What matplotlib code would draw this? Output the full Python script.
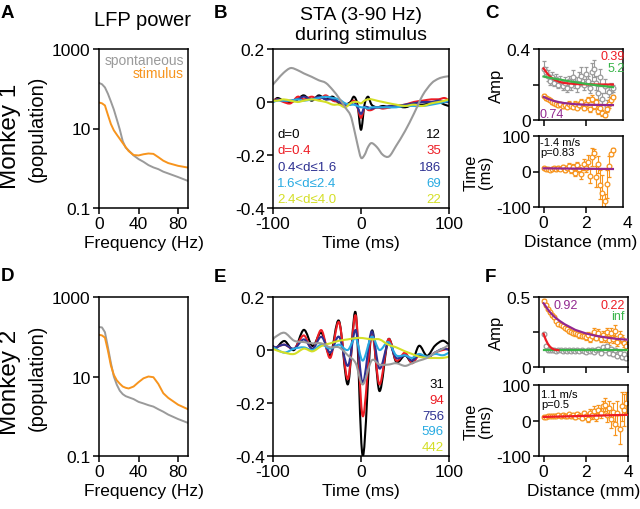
import numpy as np
import matplotlib
matplotlib.use("Agg")
import matplotlib.pyplot as plt
from matplotlib.path import Path
from matplotlib.patches import PathPatch

plt.rcParams["font.family"] = ["Liberation Sans", "DejaVu Sans"]
plt.rcParams["axes.unicode_minus"] = False

W, H = 640, 510

GRAY = "#9a9a9a"
ORANGE = "#f7941d"
RED = "#ed1c24"
NAVY = "#2e3192"
CYAN = "#29abe2"
YELLOW = "#d4df26"
GREEN = "#39b54a"
PURPLE = "#92278f"

# ---- LFP power spectra (A, D) ----
freq = [0, 3, 6, 9, 12, 15, 18, 21, 24, 27, 30, 35, 40, 45, 50, 55, 60, 65, 70, 80, 90]
spont_m1 = [140, 130, 108, 75, 48, 30, 17, 9.5, 4.8, 3.3, 2.8, 2.1, 1.7, 1.45, 1.2, 1.05, 0.95, 0.82, 0.74, 0.6, 0.48]
stim_m1 = [45, 43, 38, 22, 13, 9, 7, 5.5, 4.3, 3.4, 2.7, 2.15, 2.1, 2.25, 2.35, 2.3, 1.9, 1.55, 1.35, 1.15, 1.04]
spont_m2 = [175, 172, 130, 55, 22, 10, 6.2, 4.4, 3.6, 3.2, 3.0, 2.7, 2.3, 2.1, 1.9, 1.75, 1.5, 1.3, 1.1, 0.85, 0.68]
stim_m2 = [112, 108, 95, 45, 19, 11, 8, 6.6, 5.6, 5.2, 5.0, 5.6, 7.2, 9.0, 10, 9.6, 6.5, 3.8, 2.9, 1.95, 1.5]

# ---- STA monkey 1 (B) ----
t_b = [-100, -95, -88, -80, -72, -65, -56, -48, -40, -32, -25, -18, -12, -8, -4, 0,
       4, 8, 12, 18, 25, 32, 40, 50, 60, 70, 80, 88, 95, 100]
sta_b_d0 = [0.0, 0.015, 0.005, 0.0, 0.01, 0.025, 0.005, 0.025, 0.01, 0.02, -0.005, -0.01, 0.0, 0.02, -0.01, -0.105,
            -0.01, 0.02, -0.01, -0.02, -0.015, -0.02, -0.015, -0.02, -0.01, -0.01, -0.005, 0.0, -0.01, -0.015]
sta_b_d04 = [0.005, 0.01, 0.0, -0.005, 0.02, 0.01, 0.02, 0.01, 0.025, 0.005, 0.0, -0.015, -0.005, 0.005, -0.02, -0.06,
             -0.02, -0.03, -0.03, -0.02, -0.025, -0.02, -0.015, -0.01, 0.0, 0.005, 0.01, 0.01, 0.015, 0.005]
sta_b_d16 = [0.0, 0.01, 0.005, 0.005, 0.01, 0.02, 0.01, 0.02, 0.01, 0.01, 0.0, -0.01, -0.01, 0.0, -0.02, -0.045,
             -0.02, -0.02, -0.025, -0.02, -0.02, -0.015, -0.015, -0.01, -0.005, 0.0, 0.0, 0.005, 0.0, 0.0]
sta_b_d24 = [0.0, 0.005, 0.005, 0.005, 0.01, 0.005, 0.01, 0.015, 0.02, 0.015, 0.01, -0.005, -0.01, -0.01, -0.015, -0.02,
             -0.02, -0.025, -0.02, -0.02, -0.02, -0.02, -0.02, -0.015, -0.015, -0.015, -0.01, -0.005, 0.0, 0.005]
sta_b_d40 = [0.005, 0.005, 0.01, 0.005, 0.0, 0.005, 0.01, 0.005, 0.0, -0.01, -0.01, -0.02, -0.005, 0.0, 0.0, -0.005,
             0.005, 0.01, 0.01, 0.005, 0.0, -0.005, -0.01, -0.015, -0.01, -0.015, -0.005, 0.0, 0.005, 0.01]
sta_b_gray = [0.066, 0.085, 0.11, 0.128, 0.12, 0.108, 0.095, 0.082, 0.072, 0.045, 0.015, -0.02, -0.05, -0.1, -0.16, -0.21,
              -0.2, -0.17, -0.155, -0.17, -0.2, -0.205, -0.165, -0.11, -0.045, 0.025, 0.07, 0.088, 0.095, 0.097]

# ---- STA monkey 2 (E) ----
t_e = [-100, -97, -87, -76, -65, -55, -45, -35, -25, -15, -6, 2, 12, 21, 31, 40, 50, 58, 66, 75, 84, 93, 100]
sta_e_d0 = [0.01, 0.005, 0.034, 0.0, 0.076, 0.015, 0.065, -0.02, 0.11, -0.13, 0.14, -0.40, 0.07, -0.155, 0.04, -0.045,
            -0.02, -0.045, 0.016, -0.022, 0.016, 0.035, 0.02]
sta_e_d04 = [0.015, 0.01, 0.02, 0.005, 0.055, 0.0, 0.075, -0.03, 0.105, -0.11, 0.13, -0.25, 0.06, -0.13, 0.04, -0.04,
             -0.01, -0.05, -0.02, -0.03, -0.01, 0.0, 0.005]
sta_e_d16 = [0.015, 0.01, 0.02, 0.005, 0.04, 0.005, 0.05, -0.01, 0.05, -0.06, 0.075, -0.125, 0.07, -0.07, 0.025, -0.03,
             -0.02, -0.04, -0.02, -0.03, -0.01, 0.005, 0.0]
sta_e_d24 = [0.01, 0.005, -0.01, 0.005, 0.01, 0.0, 0.02, 0.005, 0.02, 0.0, 0.045, -0.04, 0.05, 0.0, 0.03, -0.02,
             -0.02, -0.03, -0.015, -0.025, -0.015, -0.02, -0.01]
sta_e_d40 = [0.005, 0.0, -0.01, -0.015, 0.005, -0.005, 0.015, 0.025, 0.035, 0.04, 0.045, 0.045, 0.04, 0.04, 0.02, 0.01,
             -0.005, -0.015, -0.025, -0.03, -0.03, -0.03, -0.025]
sta_e_gray = [0.04, 0.05, 0.065, 0.035, 0.03, 0.025, 0.025, 0.01, 0.01, -0.02, -0.05, -0.13, -0.04, -0.055, -0.055, -0.05,
              -0.06, -0.05, -0.04, -0.03, -0.01, 0.005, 0.02]

n_m1 = ["12", "35", "186", "69", "22"]
n_m2 = ["31", "94", "756", "596", "442"]
dist_labels = ["d=0", "d=0.4", "0.4<d\u22641.6", "1.6<d\u22642.4", "2.4<d\u22644.0"]

# ---- amplitude / timing vs distance (C) ----
dist_c = [0.0, 0.1, 0.2, 0.3, 0.4, 0.5, 0.6, 0.7, 0.8, 0.9, 1.0, 1.1, 1.2, 1.3, 1.4, 1.5, 1.6,
          1.7, 1.8, 1.9, 2.0, 2.1, 2.2, 2.3, 2.4, 2.5, 2.6, 2.7, 2.8, 2.9, 3.0, 3.1, 3.2, 3.3]
amp_c_spont = [0.29, 0.27, 0.25, 0.22, 0.24, 0.21, 0.23, 0.20, 0.22, 0.19, 0.21, 0.18, 0.22, 0.20, 0.24, 0.21, 0.19,
               0.23, 0.25, 0.20, 0.26, 0.22, 0.18, 0.27, 0.29, 0.21, 0.15, 0.24, 0.12, 0.19, 0.08, 0.16, 0.18, 0.18]
amp_c_spont_err = [0.04, 0.03, 0.03, 0.02, 0.03, 0.02, 0.03, 0.02, 0.03, 0.02, 0.03, 0.02, 0.03, 0.03, 0.04, 0.03, 0.03,
                   0.04, 0.05, 0.03, 0.04, 0.03, 0.03, 0.05, 0.05, 0.04, 0.04, 0.05, 0.03, 0.04, 0.03, 0.03, 0.03, 0.02]
amp_c_stim = [0.137, 0.125, 0.12, 0.11, 0.10, 0.095, 0.09, 0.085, 0.09, 0.08, 0.085, 0.075, 0.09, 0.08, 0.075, 0.09, 0.07,
              0.085, 0.10, 0.07, 0.09, 0.11, 0.06, 0.12, 0.08, 0.10, 0.05, 0.07, 0.04, 0.03, 0.06, 0.09, 0.11, 0.13]
amp_c_stim_err = [0.01, 0.01, 0.01, 0.01, 0.01, 0.01, 0.01, 0.01, 0.01, 0.01, 0.01, 0.01, 0.015, 0.01, 0.01, 0.015, 0.01,
                  0.015, 0.02, 0.015, 0.02, 0.02, 0.015, 0.02, 0.02, 0.02, 0.015, 0.02, 0.015, 0.015, 0.015, 0.02, 0.02, 0.01]
time_c = [9, 6, 7, 5, 8, 9, 6, 10, 8, 12, 5, 10, 15, 3, 12, -5, 18,
          8, -8, 20, 10, 28, -12, 40, 52, -15, 20, -37, -60, -83, -35, 15, 49, 61]
time_c_err = [3, 3, 4, 3, 4, 4, 4, 5, 5, 6, 5, 6, 8, 6, 8, 8, 10,
              10, 12, 15, 12, 18, 20, 25, 10, 30, 25, 40, 50, 20, 40, 30, 5, 5]

fit_d_c = [0, 0.25, 0.5, 0.75, 1.0, 1.5, 2.0, 2.5, 3.0, 3.3]
fit_c_red = [0.29, 0.25, 0.228, 0.215, 0.208, 0.203, 0.201, 0.2, 0.2, 0.2]
fit_c_green = [0.245, 0.239, 0.233, 0.228, 0.223, 0.213, 0.204, 0.196, 0.189, 0.185]
fit_c_purple = [0.13, 0.117, 0.107, 0.1, 0.095, 0.089, 0.086, 0.085, 0.084, 0.084]
line_c_d = [0, 3.3]
line_c_t = [9, 7]

# ---- amplitude / timing vs distance (F) ----
dist_f = [0.0, 0.1, 0.2, 0.3, 0.4, 0.5, 0.6, 0.7, 0.8, 0.9, 1.0, 1.1, 1.2, 1.3, 1.4, 1.5, 1.6, 1.7, 1.8, 1.9,
          2.0, 2.1, 2.2, 2.3, 2.4, 2.5, 2.6, 2.7, 2.8, 2.9, 3.0, 3.1, 3.2, 3.3, 3.4, 3.5, 3.6, 3.7, 3.8, 3.9]
amp_f_stim = [0.474, 0.44, 0.415, 0.39, 0.37, 0.356, 0.33, 0.31, 0.30, 0.29, 0.28, 0.27, 0.26, 0.25, 0.245, 0.24,
              0.235, 0.23, 0.22, 0.225, 0.215, 0.23, 0.2, 0.22, 0.25, 0.21, 0.24, 0.2, 0.23, 0.21, 0.25, 0.19,
              0.24, 0.2, 0.26, 0.18, 0.22, 0.2, 0.17, 0.15]
amp_f_stim_err = [0.01, 0.01, 0.01, 0.01, 0.01, 0.01, 0.01, 0.01, 0.01, 0.01, 0.01, 0.01, 0.015, 0.01, 0.015, 0.015,
                  0.015, 0.02, 0.015, 0.02, 0.02, 0.02, 0.02, 0.02, 0.03, 0.02, 0.03, 0.02, 0.03, 0.03, 0.03, 0.03,
                  0.04, 0.03, 0.04, 0.03, 0.04, 0.03, 0.03, 0.03]
amp_f_spont = [0.237, 0.15, 0.125, 0.12, 0.118, 0.12, 0.115, 0.12, 0.118, 0.115, 0.12, 0.115, 0.118, 0.113, 0.12, 0.115,
               0.118, 0.112, 0.12, 0.115, 0.11, 0.12, 0.115, 0.125, 0.11, 0.12, 0.13, 0.1, 0.14, 0.12, 0.15, 0.1,
               0.13, 0.09, 0.12, 0.08, 0.1, 0.07, 0.09, 0.065]
amp_f_spont_err = [0.005] * 20 + [0.008] * 10 + [0.012] * 10
time_f = [9, 11, 12, 13, 12, 14, 13, 15, 12, 16, 14, 12, 17, 13, 15, 11, 18, 14, 8, 20,
          12, 5, 22, 15, 28, 10, 30, 20, 40, 45, 15, 35, 5, 25, -10, 20, -25, 40, 30, 50]
time_f_err = [3, 3, 3, 3, 3, 3, 3, 4, 4, 4, 4, 4, 5, 5, 5, 6, 6, 6, 7, 8,
              8, 8, 10, 10, 12, 12, 14, 14, 16, 18, 20, 20, 25, 25, 30, 35, 40, 40, 45, 30]

fit_d_f = [0, 0.25, 0.5, 0.75, 1.0, 1.5, 2.0, 2.5, 3.0, 3.5, 4.0]
fit_f_purple = [0.455, 0.4, 0.36, 0.33, 0.305, 0.265, 0.24, 0.222, 0.21, 0.2, 0.195]
fit_d_f_red = [0, 0.1, 0.2, 0.3, 0.4, 0.5, 0.6, 0.7]
fit_f_red = [0.237, 0.195, 0.165, 0.145, 0.132, 0.125, 0.122, 0.12]
fit_f_green_d = [0, 4]
fit_f_green = [0.12, 0.12]
line_f_d = [0, 4]
line_f_t = [10, 16]

TICK_FS = 12.5


def add_ax(fig, x0, y0, x1, y1):
    return fig.add_axes([x0 / W, 1 - y1 / H, (x1 - x0) / W, (y1 - y0) / H])


def style(ax, fs=TICK_FS):
    for s in ax.spines.values():
        s.set_linewidth(1.1)
    ax.tick_params(direction="out", length=4, width=1.1, labelsize=fs, pad=2)


def ftext(fig, x, y, s, **kw):
    kw.setdefault("va", "center")
    fig.text(x / W, 1 - y / H, s, **kw)


def smooth_line(ax, x, y, color, lw=1.5, zorder=2):
    # smooth (Catmull-Rom style bezier) curve through the read points
    x = np.asarray(x, float)
    y = np.asarray(y, float)
    n = len(x)
    verts = [(x[0], y[0])]
    codes = [Path.MOVETO]
    for i in range(n - 1):
        i0, i3 = max(i - 1, 0), min(i + 2, n - 1)
        c1 = (x[i] + (x[i + 1] - x[i0]) / 6, y[i] + (y[i + 1] - y[i0]) / 6)
        c2 = (x[i + 1] - (x[i3] - x[i]) / 6, y[i + 1] - (y[i3] - y[i]) / 6)
        verts += [c1, c2, (x[i + 1], y[i + 1])]
        codes += [Path.CURVE4] * 3
    ax.add_patch(PathPatch(Path(verts, codes), fill=False, edgecolor=color, lw=lw,
                           joinstyle="round", capstyle="round", zorder=zorder))


fig = plt.figure(figsize=(W / 100, H / 100), dpi=100)

# spectra
for (y0, y1), spont, stim in [((50, 209), spont_m1, stim_m1), ((298, 457), spont_m2, stim_m2)]:
    ax = add_ax(fig, 99, y0, 188, y1)
    ax.plot(freq, spont, color=GRAY, lw=1.4)
    ax.plot(freq, stim, color=ORANGE, lw=1.4)
    ax.set_yscale("log")
    ax.set_xlim(0, 90)
    ax.set_ylim(0.1, 1000)
    ax.set_yticks([0.1, 10, 1000])
    ax.set_yticklabels(["0.1", "10", "1000"])
    ax.minorticks_off()
    ax.set_xticks([0, 40, 80])
    style(ax)
    ax.set_xlabel("Frequency (Hz)", fontsize=12.5, labelpad=3)

ftext(fig, 184, 61, "spontaneous", color=GRAY, fontsize=10, ha="right")
ftext(fig, 184, 74, "stimulus", color=ORANGE, fontsize=10, ha="right")

# STA panels
sta_sets = [
    ((50, 209), t_b, [sta_b_d0, sta_b_d04, sta_b_d16, sta_b_d24, sta_b_d40], sta_b_gray),
    ((298, 457), t_e, [sta_e_d0, sta_e_d04, sta_e_d16, sta_e_d24, sta_e_d40], sta_e_gray),
]
line_colors = ["black", RED, NAVY, CYAN, YELLOW]
for (y0, y1), t, series, gray in sta_sets:
    ax = add_ax(fig, 273, y0, 449, y1)
    for vals, c in zip(series, line_colors):
        smooth_line(ax, t, vals, c, lw=1.5)
    smooth_line(ax, t, gray, GRAY, lw=1.5)
    ax.set_xlim(-100, 100)
    ax.set_ylim(-0.4, 0.2)
    ax.set_yticks([-0.4, -0.2, 0, 0.2])
    ax.set_yticklabels(["-0.4", "-0.2", "0", "0.2"])
    ax.set_xticks([-100, 0, 100])
    style(ax)
    ax.set_xlabel("Time (ms)", fontsize=12.5, labelpad=3)

for i, (lab, c) in enumerate(zip(dist_labels, line_colors)):
    ftext(fig, 277, 135 + 16.3 * i, lab, color=c, fontsize=9.5, ha="left")
    ftext(fig, 441, 135 + 16.3 * i, n_m1[i], color=c, fontsize=9.5, ha="right")
    ftext(fig, 444, 385 + 15.8 * i, n_m2[i], color=c, fontsize=9.5, ha="right")


def scatter_err(ax, x, y, e, color):
    ax.errorbar(x, y, yerr=e, fmt="o", ms=3.4, mfc="white", mec=color, mew=0.9,
                ecolor=color, elinewidth=0.8, capsize=1.2, capthick=0.8, zorder=2)


def dist_axes(y0, y1, x1, xmax, ylim, yticks, yticklabels, show_x):
    ax = add_ax(fig, 539, y0, x1, y1)
    ax.set_xlim(-0.22, xmax)
    ax.set_ylim(*ylim)
    ax.set_yticks(yticks)
    ax.set_yticklabels(yticklabels)
    ax.set_xticks([0, 2, 4] if xmax >= 4 else [0, 2])
    style(ax)
    if not show_x:
        ax.set_xticklabels([])
    return ax


# C
ax = dist_axes(50, 121, 623, 3.78, (0, 0.4), [0, 0.2, 0.4], ["0", "", "0.4"], False)
scatter_err(ax, dist_c, amp_c_spont, amp_c_spont_err, GRAY)
scatter_err(ax, dist_c, amp_c_stim, amp_c_stim_err, ORANGE)
ax.plot(fit_d_c, fit_c_red, color=RED, lw=1.6, zorder=4)
ax.plot(fit_d_c, fit_c_green, color=GREEN, lw=1.6, zorder=4)
ax.plot(fit_d_c, fit_c_purple, color=PURPLE, lw=1.6, zorder=4)
ax.set_ylabel("Amp", fontsize=12, labelpad=2)

ax = dist_axes(137, 208, 623, 3.78, (-100, 100), [-100, 0, 100], ["-100", "0", "100"], True)
scatter_err(ax, dist_c, time_c, time_c_err, ORANGE)
ax.plot(line_c_d, line_c_t, color=PURPLE, lw=1.6, zorder=4)
ax.annotate("4", xy=(4, 0), xycoords=("data", "axes fraction"), xytext=(0, -6),
            textcoords="offset points", ha="center", va="top", fontsize=TICK_FS, annotation_clip=False)
ax.set_ylabel("Time\n(ms)", fontsize=12, labelpad=2, linespacing=1.0)
ax.set_xlabel("Distance (mm)", fontsize=12.5, labelpad=3)

ftext(fig, 625, 57, "0.39", color=RED, fontsize=9, ha="right")
ftext(fig, 625, 68.5, "5.2", color=GREEN, fontsize=9, ha="right")
ftext(fig, 540, 114.5, "0.74", color=PURPLE, fontsize=9, ha="left")
ftext(fig, 540, 142.5, "-1.4 m/s", fontsize=8, ha="left")
ftext(fig, 540, 153.5, "p=0.83", fontsize=8, ha="left")

# F
ax = dist_axes(298, 368, 628, 4.0, (0, 0.5), [0, 0.25, 0.5], ["0", "", "0.5"], False)
scatter_err(ax, dist_f, amp_f_spont, amp_f_spont_err, GRAY)
scatter_err(ax, dist_f, amp_f_stim, amp_f_stim_err, ORANGE)
ax.plot(fit_f_green_d, fit_f_green, color=GREEN, lw=1.6, zorder=4)
ax.plot(fit_d_f_red, fit_f_red, color=RED, lw=1.6, zorder=4)
ax.plot(fit_d_f, fit_f_purple, color=PURPLE, lw=1.6, zorder=4)
ax.set_ylabel("Amp", fontsize=12, labelpad=2)

ax = dist_axes(386, 457, 628, 4.0, (-100, 100), [-100, 0, 100], ["-100", "0", "100"], True)
scatter_err(ax, dist_f, time_f, time_f_err, ORANGE)
ax.plot(line_f_d, line_f_t, color=RED, lw=1.6, zorder=4)
ax.set_ylabel("Time\n(ms)", fontsize=12, labelpad=2, linespacing=1.0)
ax.set_xlabel("Distance (mm)", fontsize=12.5, labelpad=3)

ftext(fig, 553, 306.5, "0.92", color=PURPLE, fontsize=9, ha="left")
ftext(fig, 625, 306.5, "0.22", color=RED, fontsize=9, ha="right")
ftext(fig, 625, 317.5, "inf", color=GREEN, fontsize=9, ha="right")
ftext(fig, 541, 395, "1.1 m/s", fontsize=8, ha="left")
ftext(fig, 541, 405, "p=0.5", fontsize=8, ha="left")

# titles, row labels, panel letters
ftext(fig, 143, 20, "LFP power", fontsize=14.5, ha="center")
ftext(fig, 361, 15, "STA (3-90 Hz)", fontsize=14, ha="center")
ftext(fig, 361, 36, "during stimulus", fontsize=14, ha="center")
ftext(fig, 10, 136, "Monkey 1", fontsize=17.5, ha="center", rotation=90)
ftext(fig, 37, 129, "(population)", fontsize=14.5, ha="center", rotation=90)
ftext(fig, 10, 382, "Monkey 2", fontsize=17.5, ha="center", rotation=90)
ftext(fig, 37, 378, "(population)", fontsize=14.5, ha="center", rotation=90)

for lab, x, y in [("A", 1, 13), ("B", 214, 13), ("C", 485, 13),
                  ("D", 1, 277), ("E", 214, 278), ("F", 485, 278)]:
    ftext(fig, x, y, lab, fontsize=13.5, fontweight="bold", ha="left")

fig.savefig("out.png", dpi=100)
